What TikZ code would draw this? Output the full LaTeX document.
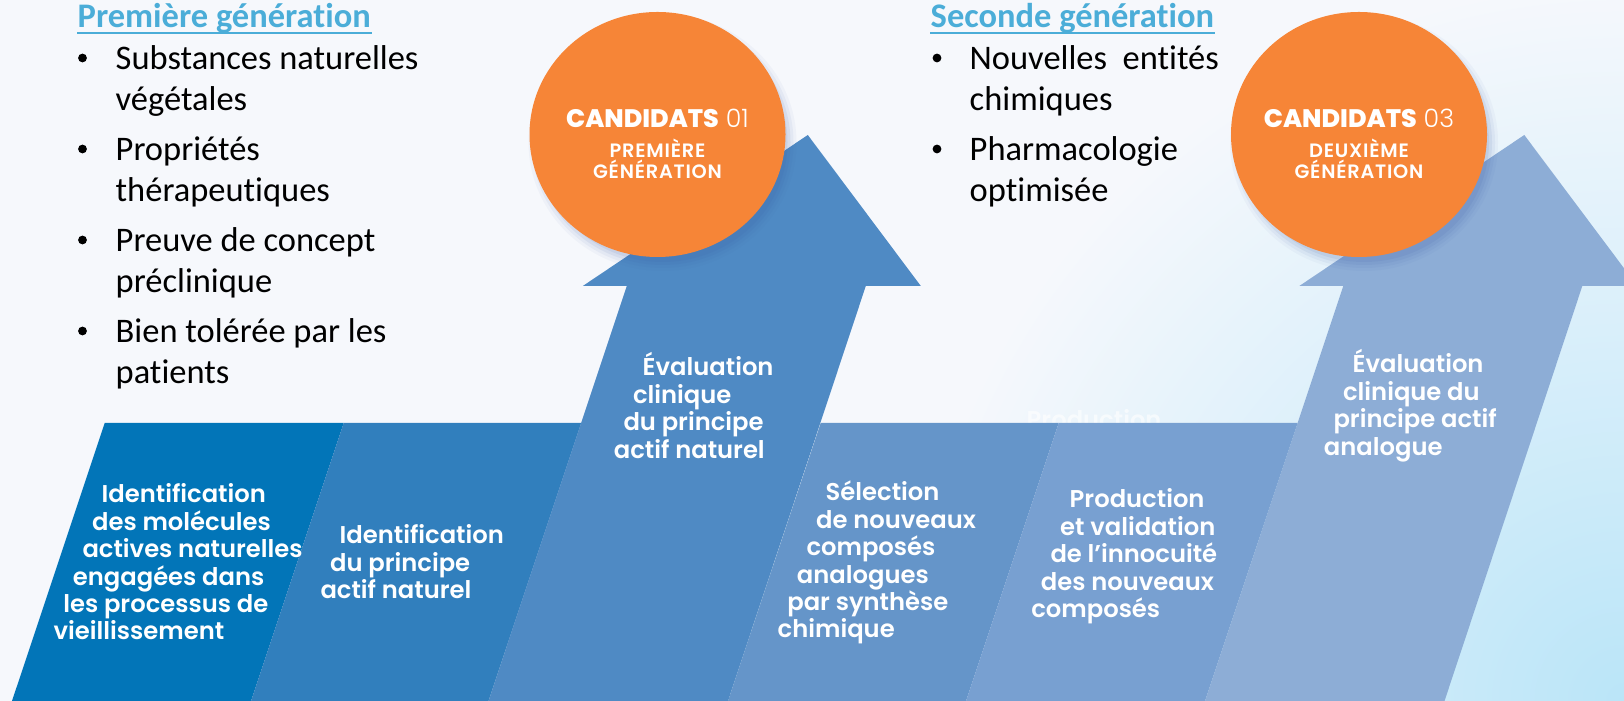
\documentclass[tikz,border=0pt]{standalone}
\usepackage{fontspec}
\setmainfont{Carlito}[Ligatures=NoCommon]
\newfontfamily\stagefont[UprightFont=* Medium, BoldFont=* SemiBold]{Poppins}
\newfontfamily\badgefont[UprightFont=* Light, BoldFont=* ExtraBold]{Poppins}
\definecolor{bgbase}{RGB}{246,248,252}
\definecolor{bgcyan}{RGB}{186,229,248}
\definecolor{headblue}{RGB}{75,173,216}
\definecolor{bandA}{RGB}{2,117,184}
\definecolor{bandB}{RGB}{49,127,189}
\definecolor{bandC}{RGB}{79,138,196}
\definecolor{bandD}{RGB}{101,149,201}
\definecolor{bandE}{RGB}{120,160,209}
\definecolor{bandF}{RGB}{141,173,214}
\definecolor{badge}{RGB}{246,133,55}
\definecolor{badgeshade}{RGB}{60,90,165}
% band piece between two bottom x positions
\newcommand{\stripe}[3]{%
  \fill[#3] (#1,701) -- ({#1+92.7},423) -- ({#2+92.7},423) -- (#2,701) -- cycle;}
% slanted arrow rising from the band
\newcommand{\growarrow}[2]{%
  \fill[#2] (#1,701) -- ++(138.3,-415) -- ++(-44,0) -- ++(225,-151)
    -- ++(113,151) -- ++(-55,0) -- ({#1+239.5},701) -- cycle;}
% white step text, one node per line, following the slant
\newcommand{\stagelabel}[4]{%
  \foreach \txt [count=\k from 0] in {#4}{%
    \node[stagetxt] (#1-\k) at ({#2-9.6*\k},{#3+27.4*\k}) {\txt};}}
% bullet with its lines
\newcommand{\bulletitem}[5]{%
  \node[bulletdot] (#1-d) at (#2,{#4-12}) {};
  \foreach \txt [count=\k from 0] in {#5}{%
    \node[itemtxt] (#1-\k) at (#3,{#4+41*\k}) {\txt};}}
% orange badge
\newcommand{\badgedisc}[6]{%
  \foreach \r/\o in {6/0.04,3/0.06,0/0.08,-3/0.09}{%
    \fill[badgeshade, opacity=\o] ({#2+5},{#3+8}) ellipse [x radius={128+\r}, y radius={122.5+\r}];}
  \fill[badge] (#2,#3) ellipse [x radius=128, y radius=122.5];
  \node[badgetitle] (#1-t) at (#2,128) {{\bfseries CANDIDATS} #4};
  \node[badgesub] (#1-a) at (#2,158) {#5};
  \node[badgesub] (#1-b) at (#2,179) {#6};}

\begin{document}
\begin{tikzpicture}[x=0.01cm, y=-0.01cm,
  stagetxt/.style={text=white, font=\stagefont\bfseries\fontsize{6.9}{7.7}\selectfont, anchor=base west, inner sep=0pt},
  itemtxt/.style={font=\fontsize{9.8}{11.7}\selectfont, anchor=base west, inner sep=0pt},
  bulletdot/.style={circle, fill=black, inner sep=0pt, minimum size=2.5pt},
  headtxt/.style={text=headblue, font=\bfseries\fontsize{9.8}{11.7}\selectfont, anchor=base west, inner sep=0pt},
  badgetitle/.style={text=white, font=\badgefont\fontsize{7.2}{8}\selectfont, anchor=base, inner sep=0pt},
  badgesub/.style={text=white, font=\stagefont\bfseries\fontsize{5.5}{6}\selectfont\addfontfeature{LetterSpace=4}, anchor=base, inner sep=0pt},
]
\useasboundingbox (0,0) rectangle (1624,701);
% ===== Background =====
\fill[bgbase] (0,0) rectangle (1624,701);
\begin{scope}
  \clip (0,0) rectangle (1624,701);
  \shade[inner color=bgcyan, outer color=bgbase] (1624,701) circle (720);
\end{scope}
% left-over text, mostly hidden by the band
\node[stagetxt, opacity=0.6] (ghost) at (1026,429) {Production};

% ===== Band =====
\stripe{12}{251}{bandA}
\stripe{251}{488.5}{bandB}
\stripe{728}{966}{bandD}
\stripe{966}{1205}{bandE}
\growarrow{488.5}{bandC}
\growarrow{1205}{bandF}

% ===== Step texts =====
\stagelabel{idmol}{101}{503}{Identification, des molécules, actives naturelles, engagées dans, les processus de, vieillissement}
\stagelabel{idpa}{339}{544}{Identification, du principe, actif naturel}
\stagelabel{evnat}{642}{376}{Évaluation, clinique, du principe, actif naturel}
\stagelabel{sel}{825}{501}{Sélection, de nouveaux, composés, analogues, par synthèse, chimique}
\stagelabel{prod}{1069}{508}{Production, et validation, de l’innocuité, des nouveaux, composés}
\stagelabel{evana}{1352}{373}{Évaluation, clinique du, principe actif, analogue}

% ===== Badges =====
\badgedisc{cand1}{657.5}{134.5}{01}{PREMIÈRE}{GÉNÉRATION}
\badgedisc{cand3}{1359}{134.5}{03}{DEUXIÈME}{GÉNÉRATION}

% ===== Generations =====
\node[headtxt] (gen1) at (77,28) {Première génération};
\draw[headblue, line width=0.6pt] ([yshift=-1.4pt]gen1.base west) -- ([yshift=-1.4pt]gen1.base east);
\bulletitem{p1}{82.5}{115}{70}{Substances naturelles, végétales}
\bulletitem{p2}{82.5}{115}{161}{Propriétés, thérapeutiques}
\bulletitem{p3}{82.5}{115}{252}{Preuve de concept, préclinique}
\bulletitem{p4}{82.5}{115}{343}{Bien tolérée par les, patients}

\node[headtxt] (gen2) at (930,28) {Seconde génération};
\draw[headblue, line width=0.6pt] ([yshift=-1.4pt]gen2.base west) -- ([yshift=-1.4pt]gen2.base east);
\bulletitem{s1}{937}{969}{70}{{\makebox[70.85pt][s]{Nouvelles entités}}, chimiques}
\bulletitem{s2}{937}{969}{161}{Pharmacologie, optimisée}
\end{tikzpicture}
\end{document}
